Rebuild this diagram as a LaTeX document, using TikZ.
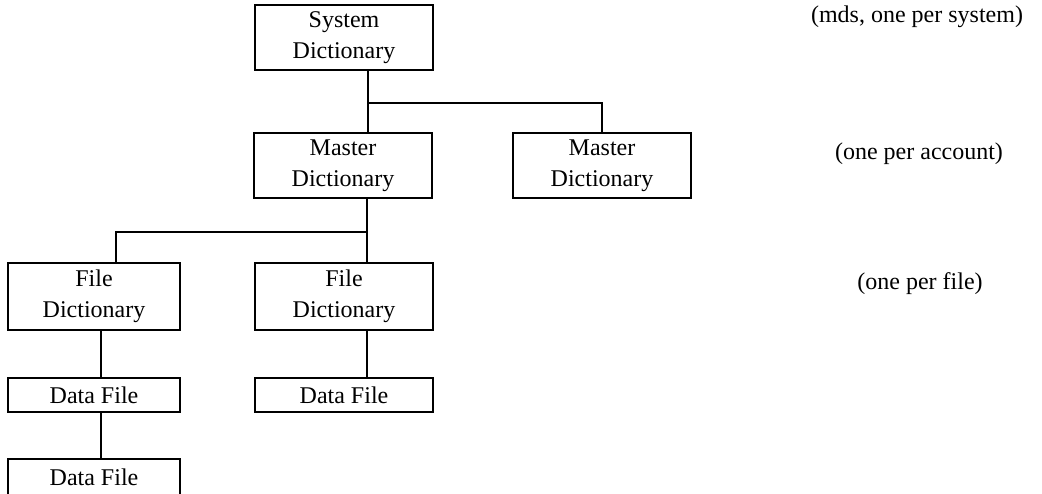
\documentclass[tikz,border=0pt]{standalone}
\usepackage{fontspec}
\setmainfont{Liberation Serif}

\begin{document}
\begin{tikzpicture}
        [x=1pt,y=-1pt,every node/.style={font=\fontsize{24}{31}\selectfont,inner sep=0},
         box/.style={draw,line width=1.4pt,rectangle,align=center,minimum width=178pt,minimum height=65pt},
         note/.style={anchor=center}, every path/.style={line width=1.4pt}]

        \useasboundingbox (0,0) rectangle (1042,493);

        \node[box] (sys) at (344,37.5) {System\\Dictionary};
        \node[box] (m1) at (343,165.5) {Master\\Dictionary};
        \node[box] (m2) at (602,165.5) {Master\\Dictionary};
        \node[box,minimum width=172pt,minimum height=67pt] (fd1) at (94,296.5) {File\\Dictionary};
        \node[box,minimum height=67pt] (fd2) at (344,296.5) {File\\Dictionary};
        \node[box,minimum width=172pt,minimum height=34pt] (df1) at (94,395) {Data File};
        \node[box,minimum height=34pt] (df2) at (344,395) {Data File};
        \node[box,minimum width=172pt,minimum height=36pt] (df3) at (94,477) {Data File};

        \node[note] (n1) at (917,17) {(mds, one per system)};
        \node[note] (n2) at (919,154) {(one per account)};
        \node[note] (n3) at (920,284) {(one per file)};

        \coordinate (j1) at (368,103);
        \coordinate (j2) at (367,232);
        \coordinate (j3) at (116,232);
        \coordinate (c1) at (101,0);

        \draw (sys.south -| j1) -- (m1.north -| j1);
        \draw (j1) -| (m2.north);
        \draw (m1.south -| j2) -- (fd2.north -| j2);
        \draw (j2) -- (j3) -- (fd1.north -| j3);
        \draw (fd1.south -| c1) -- (df1.north -| c1);
        \draw (df1.south -| c1) -- (df3.north -| c1);
        \draw (fd2.south -| j2) -- (df2.north -| j2);
      \end{tikzpicture}
\end{document}
